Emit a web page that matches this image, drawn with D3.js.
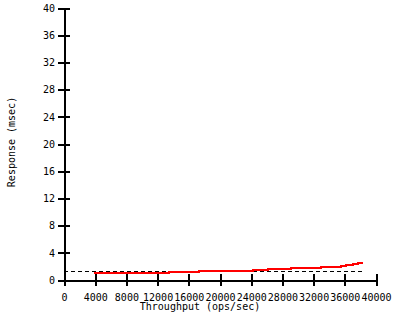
<!DOCTYPE html>
<html>
<head>
<meta charset="utf-8">
<script src="https://cdn.jsdelivr.net/npm/d3@7"></script>
<style>
   body { margin: 0; background: #fff; }
   text { font-family: 'DejaVu Sans Mono', monospace; font-size: 10px; fill: #000; }
</style>
</head>
<body>
<div class="chart"></div>
<script>

// step edges of the measured curve (ops/sec) and response on each step (msec)
const throughput = [3800, 13400, 17300, 24200, 26200, 29100, 33000, 35500, 36200, 37000, 37700, 38300];
const response = [0.98, 1.18, 1.32, 1.47, 1.6, 1.76, 1.91, 2.06, 2.2, 2.35, 2.5];

// dashed reference line
const refStart = 0;
const refEnd = 38300;
const refValue = 1.28;

const xTicks = [0, 4000, 8000, 12000, 16000, 20000, 24000, 28000, 32000, 36000, 40000];
const yTicks = [0, 4, 8, 12, 16, 20, 24, 28, 32, 36, 40];

const width = 400;
const height = 320;
const margin = {top: 8, right: 24, bottom: 40, left: 64};
const innerWidth = width - margin.left - margin.right;
const innerHeight = height - margin.top - margin.bottom;

const svg = d3.select('.chart')
   .append('svg')
   .attr('width', width)
   .attr('height', height)
   .style('display', 'block');

const xScale = d3.scaleLinear()
   .domain([0, 40000])
   .range([0, innerWidth]);

const yScale = d3.scaleLinear()
   .domain([0, 40])
   .range([innerHeight, 0]);

const g = svg.append('g')
   .attr('transform', `translate(${margin.left},${margin.top})`);

// axes, ticks crossing the line on both sides
const xAxis = d3.axisBottom(xScale)
   .tickValues(xTicks)
   .tickFormat(d3.format('d'))
   .tickSizeInner(6)
   .tickSizeOuter(0)
   .tickPadding(6);

const yAxis = d3.axisLeft(yScale)
   .tickValues(yTicks)
   .tickFormat(d3.format('d'))
   .tickSizeInner(6)
   .tickSizeOuter(0)
   .tickPadding(3);

const xg = g.append('g')
   .attr('transform', `translate(0,${innerHeight})`)
   .call(xAxis);

const yg = g.append('g').call(yAxis);

[xg, yg].forEach(a => {
   a.selectAll('text').style('font-family', null).style('font-size', null).attr('fill', null);
   a.select('.domain').attr('stroke', '#000').attr('stroke-width', 2).attr('shape-rendering', 'crispEdges');
   a.selectAll('.tick line').attr('stroke', '#000').attr('stroke-width', 2).attr('shape-rendering', 'crispEdges');
   a.attr('font-family', null).attr('font-size', null);
});

// extend ticks to the inside too
xg.selectAll('.tick line').attr('y1', -6);
yg.selectAll('.tick line').attr('x1', 6);
xg.selectAll('.tick text').attr('dy', '0.9em');

// dashed reference
g.append('line')
   .attr('x1', xScale(refStart))
   .attr('x2', xScale(refEnd))
   .attr('y1', yScale(refValue))
   .attr('y2', yScale(refValue))
   .attr('stroke', '#000')
   .attr('stroke-width', 1)
   .attr('stroke-dasharray', '4,3')
   .attr('shape-rendering', 'crispEdges');

// measured response, drawn as steps
const pts = throughput.map((t, i) => [t, response[Math.min(i, response.length - 1)]]);

const line = d3.line()
   .x(d => xScale(d[0]))
   .y(d => yScale(d[1]))
   .curve(d3.curveStepAfter);

g.append('path')
   .datum(pts)
   .attr('d', line)
   .attr('fill', 'none')
   .attr('stroke', '#ff0000')
   .attr('stroke-width', 2)
   .attr('shape-rendering', 'crispEdges');

// axis titles
svg.append('text')
   .attr('x', 200)
   .attr('y', 310)
   .attr('text-anchor', 'middle')
   .text('Throughput (ops/sec)');

svg.append('text')
   .attr('transform', 'translate(15,142) rotate(-90)')
   .attr('text-anchor', 'middle')
   .text('Response (msec)');

</script>
</body>
</html>
